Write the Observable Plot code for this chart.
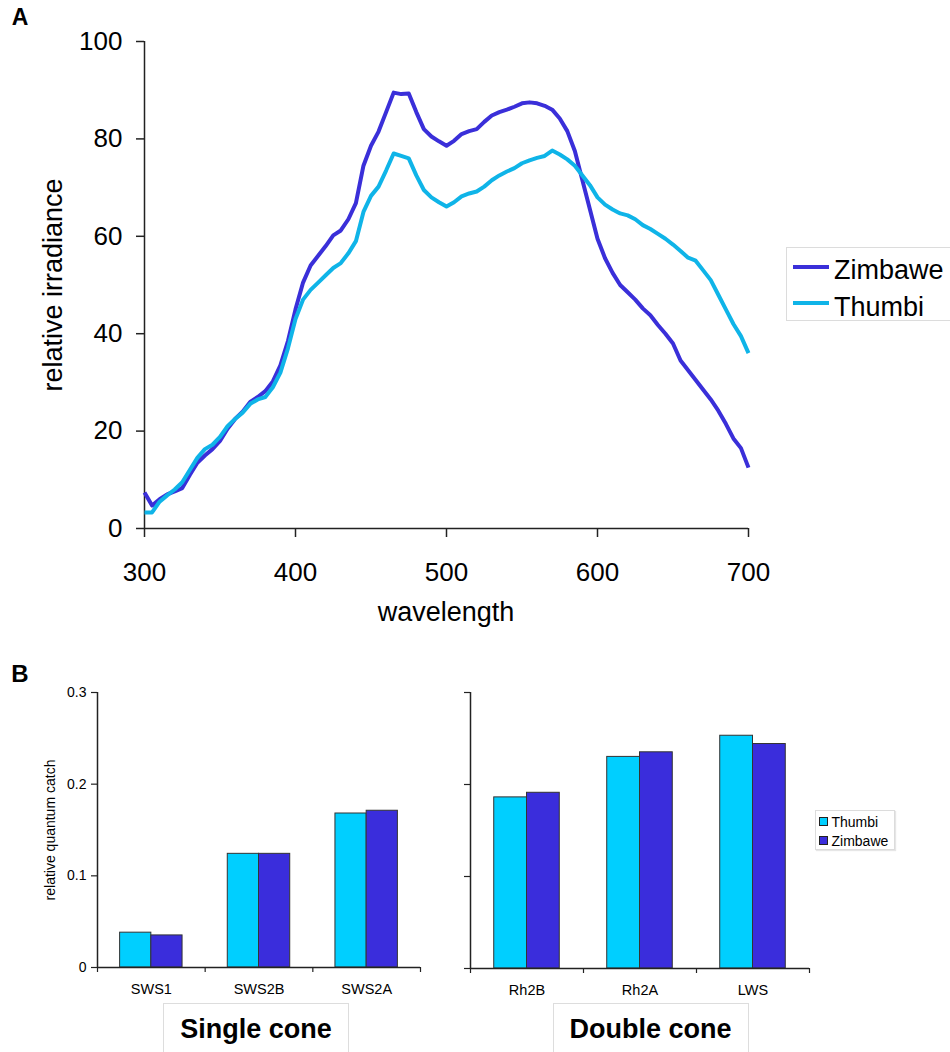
<!DOCTYPE html>
<html>
<head>
<meta charset="utf-8">
<script src="https://cdn.jsdelivr.net/npm/d3@7"></script>
<script src="https://cdn.jsdelivr.net/npm/@observablehq/plot@0.6"></script>
<style>
  html, body { margin: 0; padding: 0; background: #fff; }
  #page { position: relative; width: 950px; height: 1052px; overflow: hidden; background: #fff;
          font-family: 'Liberation Sans', Arial, Helvetica, sans-serif; color: #000; }
  .abs { position: absolute; }
  .ctext { position: absolute; white-space: nowrap; line-height: 1; transform: translate(-50%, -50%); }
  .ltext { position: absolute; white-space: nowrap; line-height: 1; transform: translate(0, -50%); }
</style>
</head>
<body>
<div id="page"></div>
<script>
// ---------------- DATA ----------------
const wavelength = [300,305,310,315,320,325,330,335,340,345,350,355,360,365,370,375,380,385,390,395,
  400,405,410,415,420,425,430,435,440,445,450,455,460,465,470,475,480,485,490,495,
  500,505,510,515,520,525,530,535,540,545,550,555,560,565,570,575,580,585,590,595,
  600,605,610,615,620,625,630,635,640,645,650,655,660,665,670,675,680,685,690,695,700];
const zimbawe = [7.4,4.7,6.0,7.0,7.6,8.3,11.0,13.5,15.0,16.3,18.0,20.5,22.5,24.0,26.0,27.0,28.2,30.2,33.5,38.5,
  45.0,50.5,54.0,56.0,58.0,60.2,61.2,63.5,66.8,74.5,78.6,81.5,85.5,89.5,89.2,89.3,85.5,82.0,80.5,79.5,
  78.6,79.6,81.0,81.6,82.0,83.5,84.8,85.5,86.0,86.6,87.3,87.5,87.3,86.8,86.0,84.2,81.6,77.5,71.5,65.5,
  59.5,55.5,52.5,50.0,48.5,47.0,45.2,43.8,41.8,40.0,38.0,34.5,32.5,30.5,28.5,26.5,24.2,21.5,18.5,16.5,12.5];
const thumbi = [3.3,3.3,5.5,6.8,8.0,9.5,12.0,14.5,16.3,17.2,18.8,21.0,22.5,23.8,25.6,26.5,27.0,29.0,32.0,37.0,
  43.0,47.0,49.0,50.5,52.0,53.5,54.5,56.5,59.0,65.0,68.3,70.2,73.5,77.0,76.5,76.0,72.5,69.5,68.0,67.0,
  66.1,67.0,68.2,68.8,69.2,70.2,71.5,72.5,73.3,74.0,75.0,75.6,76.1,76.5,77.6,76.8,75.8,74.5,72.5,70.5,
  68.0,66.5,65.5,64.7,64.3,63.5,62.3,61.5,60.5,59.5,58.3,57.0,55.6,55.0,53.0,51.0,48.0,45.0,42.0,39.5,36.0];
const xTicksA = [300,400,500,600,700];
const yTicksA = [0,20,40,60,80,100];

const singleCones = ["SWS1","SWS2B","SWS2A"];
const singleThumbi = [0.038,0.124,0.168];
const singleZimbawe = [0.035,0.124,0.171];
const doubleCones = ["Rh2B","Rh2A","LWS"];
const doubleThumbi = [0.186,0.230,0.253];
const doubleZimbawe = [0.191,0.235,0.244];
const yTicksB = [0,0.1,0.2,0.3];

const lineSites = ["Zimbawe","Thumbi"];
const barSites = ["Thumbi","Zimbawe"];

// ---------------- STYLE ----------------
const FONT = "'Liberation Sans', Arial, Helvetica, sans-serif";
const LINE_COLORS = {Zimbawe: "#3a2fd9", Thumbi: "#0fb4e8"};
const BAR_COLORS = {Thumbi: "#00cfff", Zimbawe: "#3a2ddc"};
const AXIS = "#222";

const page = document.getElementById("page");
function place(el, left, top) {
  el.style.position = "absolute";
  el.style.left = left + "px";
  el.style.top = top + "px";
  page.appendChild(el);
}
function label(text, cx, cy, size, opts = {}) {
  const d = document.createElement("div");
  d.className = opts.left ? "ltext" : "ctext";
  d.textContent = text;
  d.style.left = cx + "px";
  d.style.top = cy + "px";
  d.style.fontSize = size + "px";
  if (opts.bold) d.style.fontWeight = "bold";
  if (opts.rotate) d.style.transform = "translate(-50%, -50%) rotate(-90deg)";
  page.appendChild(d);
  return d;
}
function box(left, top, w, h, border, extra = "") {
  const d = document.createElement("div");
  d.className = "abs";
  d.style.cssText = `position:absolute;left:${left}px;top:${top}px;width:${w}px;height:${h}px;border:1px solid ${border};box-sizing:border-box;background:#fff;${extra}`;
  page.appendChild(d);
  return d;
}

// ---------------- PANEL A ----------------
const lineRows = [];
lineSites.forEach(site => {
  const vals = site === "Zimbawe" ? zimbawe : thumbi;
  wavelength.forEach((w, i) => lineRows.push({wl: w, value: vals[i], site}));
});

const plotA = Plot.plot({
  width: 780, height: 600,
  marginLeft: 144, marginRight: 32, marginTop: 41, marginBottom: 72,
  style: {fontFamily: FONT, fontSize: "26px", color: "#000", background: "transparent", overflow: "visible"},
  x: {domain: [300, 700], label: null},
  y: {domain: [0, 100], label: null},
  color: {domain: lineSites, range: lineSites.map(s => LINE_COLORS[s])},
  marks: [
    Plot.axisX({ticks: xTicksA, tickSize: 9, tickPadding: 25, fontSize: 26, label: null, stroke: AXIS, strokeWidth: 1.5}),
    Plot.axisY({ticks: yTicksA, tickSize: 8, tickPadding: 14, fontSize: 26, label: null, stroke: AXIS, strokeWidth: 1.5}),
    Plot.ruleY([0], {stroke: AXIS, strokeWidth: 1.5}),
    Plot.ruleX([300], {stroke: AXIS, strokeWidth: 1.5}),
    Plot.line(lineRows, {x: "wl", y: "value", z: "site", stroke: "site", strokeWidth: 4, strokeLinejoin: "round", strokeLinecap: "butt"})
  ]
});
place(plotA, 0, 0);

label("A", 20, 17, 23, {bold: true});
label("wavelength", 446, 611.5, 27);
label("relative irradiance", 52.5, 285, 27, {rotate: true});

// legend A
box(786, 247, 210, 74, "#dcdcdc");
lineSites.forEach((s, i) => {
  const y = [267.3, 303.3][i];
  const sw = document.createElement("div");
  sw.style.cssText = `position:absolute;left:793px;top:${y - 2}px;width:36px;height:4px;background:${LINE_COLORS[s]};`;
  page.appendChild(sw);
  label(s, 834, [270, 306.6][i], 27, {left: true});
});

// ---------------- PANEL B ----------------
function barPlot(cones, tVals, zVals, showLabels) {
  const rows = [];
  cones.forEach((c, i) => {
    rows.push({cone: c, site: "Thumbi", value: tVals[i], x1: i + 0.21, x2: i + 0.5});
    rows.push({cone: c, site: "Zimbawe", value: zVals[i], x1: i + 0.5, x2: i + 0.79});
  });
  return Plot.plot({
    width: 440, height: 370,
    marginLeft: showLabels ? 97 : 90, marginRight: showLabels ? 20 : 11, marginTop: 42, marginBottom: showLabels ? 53 : 52,
    style: {fontFamily: FONT, fontSize: "14px", color: "#000", background: "transparent", overflow: "visible"},
    x: {domain: [0, cones.length], label: null},
    y: {domain: [0, 0.3], label: null},
    color: {domain: barSites, range: barSites.map(s => BAR_COLORS[s])},
    marks: [
      Plot.rect(rows, {x1: "x1", x2: "x2", y1: 0, y2: "value", fill: "site", stroke: "#333", strokeWidth: 1}),
      Plot.axisX({ticks: cones.map((c, i) => i).concat([cones.length]), tickSize: 5, tickFormat: () => "", label: null, stroke: AXIS, strokeWidth: 1.2}),
      Plot.axisX({ticks: cones.map((c, i) => i + 0.5), tickSize: 0, tickPadding: 16, tickFormat: d => cones[Math.floor(d)], fontSize: 14.5, label: null}),
      Plot.axisY({ticks: yTicksB, tickSize: 6, tickPadding: 5, fontSize: 14,
                  tickFormat: showLabels ? (d => String(d)) : (() => ""), label: null, stroke: AXIS, strokeWidth: 1.2}),
      Plot.ruleY([0], {stroke: AXIS, strokeWidth: 1.5}),
      Plot.ruleX([0], {stroke: AXIS, strokeWidth: 1.5})
    ]
  });
}
place(barPlot(singleCones, singleThumbi, singleZimbawe, true), 0, 650);
place(barPlot(doubleCones, doubleThumbi, doubleZimbawe, false), 380, 650);

label("B", 20, 674, 24, {bold: true});
label("relative quantum catch", 49.5, 830, 14, {rotate: true});

// legend B
box(815, 810, 80, 40, "#dcdcdc", "box-shadow:1px 1px 1px #e6e6e6;");
barSites.forEach((s, i) => {
  const y = [816.7, 836][i];
  const sq = document.createElement("div");
  sq.style.cssText = `position:absolute;left:819px;top:${y}px;width:9px;height:9px;box-sizing:border-box;border:1px solid #222;background:${BAR_COLORS[s]};`;
  page.appendChild(sq);
  label(s, 831.5, [821.8, 840.8][i], 14, {left: true});
});

// group boxes
box(163, 1003, 186, 80, "#dddddd");
box(553, 1003, 196, 80, "#dddddd");
label("Single cone", 256, 1029, 27, {bold: true});
label("Double cone", 650.5, 1029, 27, {bold: true});
</script>
</body>
</html>
